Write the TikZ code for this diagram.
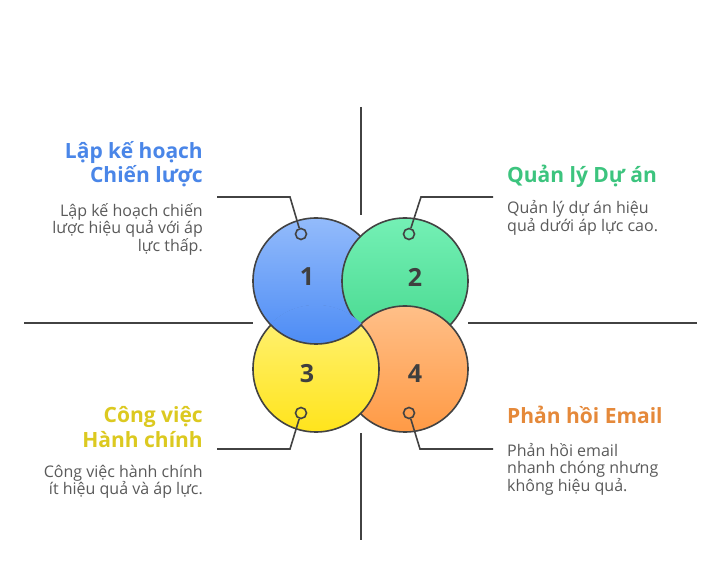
\documentclass[tikz,border=0pt]{standalone}
\usepackage{fontspec}
\setmainfont{Open Sans}
\definecolor{lc}{HTML}{424242}
\definecolor{numc}{HTML}{3F3F3F}
\definecolor{bodyc}{HTML}{5A5A5A}
\definecolor{blueT}{HTML}{93BBFB}
\definecolor{blueB}{HTML}{4D8CF5}
\definecolor{greenT}{HTML}{74F0B5}
\definecolor{greenB}{HTML}{46D88E}
\definecolor{yellowT}{HTML}{FFF27A}
\definecolor{yellowB}{HTML}{FFE41C}
\definecolor{orangeT}{HTML}{FFBF88}
\definecolor{orangeB}{HTML}{FF9A45}
\definecolor{blueTxt}{HTML}{4A86E8}
\definecolor{greenTxt}{HTML}{3CC47E}
\definecolor{yellowTxt}{HTML}{DCC920}
\definecolor{orangeTxt}{HTML}{E5893A}
\begin{document}
\begin{tikzpicture}[x=1pt,y=-1pt,
  ring/.style={draw=lc, line width=1.6pt, circle, minimum size=126pt, inner sep=0pt},
  pin/.style={draw=lc, line width=1.6pt, circle, inner sep=0pt, minimum size=11pt},
  lead/.style={draw=lc, line width=1.6pt},
  axisline/.style={draw=lc, line width=1.6pt},
  num/.style={font=\bfseries\fontsize{25}{30}\selectfont, text=numc, inner sep=0pt},
  ttl/.style={font=\bfseries\fontsize{21}{24.5}\selectfont, inner sep=0pt},
  body/.style={font=\fontsize{16}{17.5}\selectfont, text=bodyc, inner sep=0pt}
]
\useasboundingbox (0,0) rectangle (721,588);
\fill[white] (0,0) rectangle (721,588);
% axes
\coordinate (vt1) at (361,107); \coordinate (vt2) at (361,215);
\coordinate (vb1) at (361,433); \coordinate (vb2) at (361,540);
\coordinate (hl1) at (24,323);  \coordinate (hl2) at (253,323);
\coordinate (hr1) at (468,323); \coordinate (hr2) at (697,323);
\draw[axisline] (vt1) -- (vt2);
\draw[axisline] (vb1) -- (vb2);
\draw[axisline] (hl1) -- (hl2);
\draw[axisline] (hr1) -- (hr2);
% circles
\node[ring, top color=blueT, bottom color=blueB] (c1) at (316,281) {};
\node[ring, top color=greenT, bottom color=greenB] (c2) at (405,281) {};
\node[ring, top color=orangeT, bottom color=orangeB] (c4) at (405,369) {};
\node[ring, top color=yellowT, bottom color=yellowB] (c3) at (316,369) {};
\begin{scope}
  \clip (316,369) circle[radius=64.2pt];
  \node[ring, top color=blueT, bottom color=blueB] (c1b) at (316,281) {};
\end{scope}
% numbers
\node[num] (n1) at (307,277) {1};
\node[num] (n2) at (415,277) {2};
\node[num] (n3) at (307,374) {3};
\node[num] (n4) at (415,374) {4};
% pins
\node[pin] (p1) at (301,234) {};
\node[pin] (p2) at (409,234) {};
\node[pin] (p3) at (301,413) {};
\node[pin] (p4) at (409,413) {};
% leaders
\coordinate (k1) at (290,197); \coordinate (e1) at (217,197);
\coordinate (k2) at (421,197); \coordinate (e2) at (493,197);
\coordinate (k3) at (290,449); \coordinate (e3) at (217,449);
\coordinate (k4) at (420,449); \coordinate (e4) at (493,449);
\draw[lead] (e1) -- (k1) -- (p1);
\draw[lead] (e2) -- (k2) -- (p2);
\draw[lead] (e3) -- (k3) -- (p3);
\draw[lead] (e4) -- (k4) -- (p4);
% texts
\node[ttl, text=blueTxt, anchor=east, align=right] (t1) at (203,164) {Lập kế hoạch\\Chiến lược};
\node[body, anchor=east, align=right] (b1) at (203,229) {Lập kế hoạch chiến\\lược hiệu quả với áp\\lực thấp.};
\node[ttl, text=greenTxt, anchor=west, align=left] (t2) at (507,176) {Quản lý Dự án};
\node[body, anchor=west, align=left] (b2) at (507,218) {Quản lý dự án hiệu\\quả dưới áp lực cao.};
\node[ttl, text=yellowTxt, anchor=east, align=right] (t3) at (203,427) {Công việc\\Hành chính};
\node[body, anchor=east, align=right] (b3) at (203,482) {Công việc hành chính\\ít hiệu quả và áp lực.};
\node[ttl, text=orangeTxt, anchor=west, align=left] (t4) at (507,415) {Phản hồi Email};
\node[body, anchor=west, align=left] (b4) at (507,469) {Phản hồi email\\nhanh chóng nhưng\\không hiệu quả.};
\end{tikzpicture}
\end{document}
